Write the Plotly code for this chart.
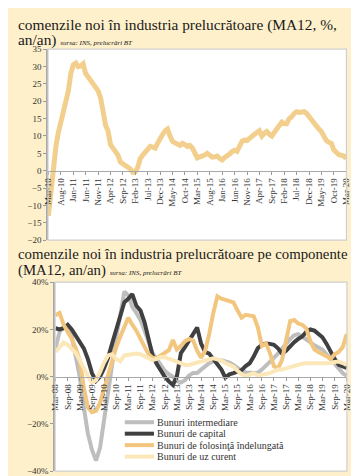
import plotly.graph_objects as go
import pandas as pd

# ---------------- data ----------------
# Chart 1: new orders in manufacturing (MA12, % y/y), monthly Mar-10 .. Mar-20
start1 = "2010-03-01"
orders_total = [
    -13, -5, 2, 7, 11, 15, 17, 20, 23, 28, 30.5, 31, 30, 30.2, 30.8, 28, 27, 26.5, 25, 24,
    23, 21, 16, 13, 11.5, 7.5, 6.5, 5.5, 4.5, 2.5, 2, 1.5, 1.2, 0.5, -0.5, -0.3, 1, 3.5, 4.5, 5.5,
    6.5, 7, 6.8, 6.5, 8, 9.5, 10.5, 11.5, 12, 10, 8.5, 8, 7.5, 7.3, 7.9, 7.5, 7, 7.3, 6.5, 5,
    3.7, 4, 4.2, 4.5, 5, 4.5, 3.9, 4, 4.2, 3.5, 3.1, 3.8, 4.2, 4.8, 5.5, 5.9, 5.6, 7.2, 8.5, 8.8,
    8.7, 9.3, 10, 10.5, 11, 11.5, 10, 10.8, 11.3, 10.5, 10, 11, 12, 13, 14, 13.5, 13.5, 15, 15.5, 16.5,
    17, 16.8, 17, 17, 16.5, 15.5, 15, 14, 13, 12, 11.3, 10, 8.7, 8.2, 7.9, 6, 5, 4.6, 4.5, 4.2,
    3.5,
]

# Chart 2: by component (MA12, y/y %), every two months Mar-08 .. Mar-20
start2 = "2008-03-01"
bunuri_intermediare = [
    12, 19, 21, 20, 17, 9, 0, -13, -24, -31, -35.5, -30, -19, -6, 6, 17, 26, 36, 34.5, 29.5,
    27, 24, 19.5, 14.5, 10, 7.5, 5, 2.5, 1, 0, -1.8, -2.5, -1.5, 0.5, 1.6, 1.6, 3, 4.5, 5.7, 6.5,
    7.1, 7, 6.5, 6, 5, 3.5, 2.5, 1.8, 1.6, 1.5, 1.6, 3, 4.5, 6.5, 8, 9.8, 12, 14, 16, 17.5,
    18, 17, 15.5, 14.5, 13.3, 12.5, 11.5, 9.5, 7.5, 6, 3.5, 1.5, 0.3,
]
bunuri_capital = [
    20.5, 20, 20.5, 22, 20, 17.5, 15, 12, 7.5, 1.5, -1.8, 0, 3.5, 8, 14, 19.5, 26, 31.5, 33, 35,
    30, 28, 23, 15.5, 9, 5.5, 2.5, 0, -2, -3.5, 0, 10, 12.5, 15, 18, 20.8, 14, 10.5, 9.8, 7.5,
    5.5, 3, -0.4, 1, 1.5, 2, 2.8, 4.5, 5.7, 8.5, 12, 13.5, 14, 13.9, 13.5, 12, 9.8, 11, 13, 14.6,
    16, 17, 19, 20, 19.5, 18, 16.7, 14, 10.5, 7.5, 5, 4.2, 3.7,
]
bunuri_folosinta = [
    26, 27, 22, 19, 16, 12, 7, -4.5, -13, -15, -14.5, -11, -5, 1.5, 7, 12.5, 17, 21.5, 25, 22,
    19.5, 16, 12.5, 9.5, 8, 7.8, 9, 10, 11.2, 15.5, 11.5, 13, 15, 16, 15.3, 11, 8, 11, 18, 27,
    34, 33, 32.5, 32, 31.5, 28, 25, 26.2, 25.8, 25.6, 21, 13, 14, 10, 4.5, 3.5, 7, 15.5, 23.5, 24,
    22.5, 22, 20.5, 15, 11.5, 10.5, 9.8, 8.7, 7.5, 9.5, 10.5, 12.5, 18,
]
bunuri_uz_curent = [
    10.5, 12.5, 14.5, 13.5, 12, 10, 7, 3.5, 0.3, -2.5, -1.5, 2, 6, 9, 9.5, 7.5, 6.5, 9, 9.2, 9.3,
    9.8, 9.5, 8.5, 7.5, 7, 7.5, 8.3, 8.2, 7.8, 7, 6.4, 5.5, 5, 5, 5.3, 6, 6.4, 7, 7.5, 7.8,
    7.3, 6.8, 5.8, 5, 4.2, 2.5, 1, 0.3, 1, 1.5, 0.5, 0.8, 1, 1.5, 2.3, 3, 3, 3.5, 4.4, 4.8,
    5, 5.5, 5.7, 5.7, 5.7, 5.8, 6, 5.8, 5.7, 6.2, 6.4, 5.8, 5,
]
series_names = [
    "Bunuri intermediare",
    "Bunuri de capital",
    "Bunuri de folosinţă îndelungată",
    "Bunuri de uz curent",
]
series_values = [bunuri_intermediare, bunuri_capital, bunuri_folosinta, bunuri_uz_curent]

# ---------------- style ----------------
W, H = 359, 476
BG = "#FEF0CB"
SERIF = "Liberation Serif"
C_TOTAL = "#F3CF8D"
series_colors = ["#BEBEBE", "#404040", "#F2C67F", "#FCE7B9"]
TXT = "#333333"


def fx(px):
    return px / W


def fy(py):
    return 1 - py / H


dates1 = pd.date_range(start1, periods=len(orders_total), freq="MS")
dates2 = pd.date_range(start2, periods=len(bunuri_intermediare), freq="2MS")

fig = go.Figure()
fig.add_trace(go.Scatter(x=dates1, y=orders_total, mode="lines", xaxis="x", yaxis="y",
                         line=dict(color=C_TOTAL, width=5), showlegend=False))
for name, col, vals in zip(series_names, series_colors, series_values):
    fig.add_trace(go.Scatter(x=dates2, y=vals, mode="lines", name=name, xaxis="x2", yaxis="y2",
                             line=dict(color=col, width=4), showlegend=False))

# domains
y1_dom = [fy(232), fy(37)]
y1_rng = [-20, 35]
y2_dom = [fy(468), fy(275)]
y2_rng = [-40, 40]
pos1 = y1_dom[0] + (y1_dom[1] - y1_dom[0]) * (0 - y1_rng[0]) / (y1_rng[1] - y1_rng[0])
pos2 = y2_dom[0] + (y2_dom[1] - y2_dom[0]) * (0 - y2_rng[0]) / (y2_rng[1] - y2_rng[0])

tickfont = dict(family=SERIF, size=9, color=TXT)
xcommon = dict(type="date", tickformat="%b-%y", tickangle=-90, ticks="outside", ticklen=3,
               tickcolor="#999999", showline=True, linecolor="#A8A8A8", linewidth=1,
               showgrid=False, zeroline=False, tickfont=tickfont, anchor="free")
ycommon = dict(ticks="outside", ticklen=3, tickcolor="#999999", showline=True,
               linecolor="#A8A8A8", linewidth=1.5, showgrid=False, zeroline=False,
               tickfont=tickfont)

fig.update_layout(
    width=W, height=H, margin=dict(l=0, r=0, t=0, b=0),
    paper_bgcolor=BG, plot_bgcolor="white", showlegend=False,
    xaxis=dict(domain=[fx(36), fx(343)], position=pos1,
               range=["2010-02-24", "2020-03-04"], dtick="M5", tick0="2010-03-01", **xcommon),
    yaxis=dict(domain=y1_dom, range=y1_rng, dtick=5, anchor="x", **ycommon),
    xaxis2=dict(domain=[fx(43.3), fx(343.5)], position=pos2,
                range=["2008-02-24", "2020-03-04"], dtick="M6", tick0="2008-03-01", **xcommon),
    yaxis2=dict(domain=y2_dom, range=y2_rng, dtick=20, ticksuffix="%", anchor="x2", **ycommon),
)

shapes = []
for xr, yr in [("x domain", "y domain"), ("x2 domain", "y2 domain")]:
    shapes.append(dict(type="rect", xref=xr, yref=yr, x0=0, x1=1, y0=0, y1=1,
                       line=dict(color="#CFCFCF", width=1.2), layer="above"))

annotations = []
src = "<i><span style='font-size:7px'>sursa: INS, prelucrări BT</span></i>"


def add_text(text, xpx, ypx, size):
    annotations.append(dict(text=text, x=fx(xpx), y=fy(ypx), xref="paper", yref="paper",
                            xanchor="left", yanchor="middle", showarrow=False,
                            font=dict(family=SERIF, size=size, color="#1a1a1a")))


add_text("comenzile noi în industria prelucrătoare (MA12, %,", 3, 12, 15.4)
add_text("an/an) " + src, 3, 28, 15.4)
add_text("comenzile noi în industria prelucrătoare pe componente", 3, 246, 14.8)
add_text("(MA12, an/an) " + src, 3, 263, 14.8)

# legend drawn manually
leg_x0, leg_x1, leg_y0, leg_dy = 115, 145, 418, 11.7
for i, (name, col) in enumerate(zip(series_names, series_colors)):
    yy = leg_y0 + i * leg_dy
    shapes.append(dict(type="line", xref="paper", yref="paper", x0=fx(leg_x0), x1=fx(leg_x1),
                       y0=fy(yy), y1=fy(yy), line=dict(color=col, width=4)))
    annotations.append(dict(text=name, x=fx(leg_x1 + 1), y=fy(yy), xref="paper", yref="paper",
                            xanchor="left", yanchor="middle", showarrow=False,
                            font=dict(family=SERIF, size=10, color=TXT)))

fig.update_layout(shapes=shapes, annotations=annotations)
fig.write_html("out.html")
